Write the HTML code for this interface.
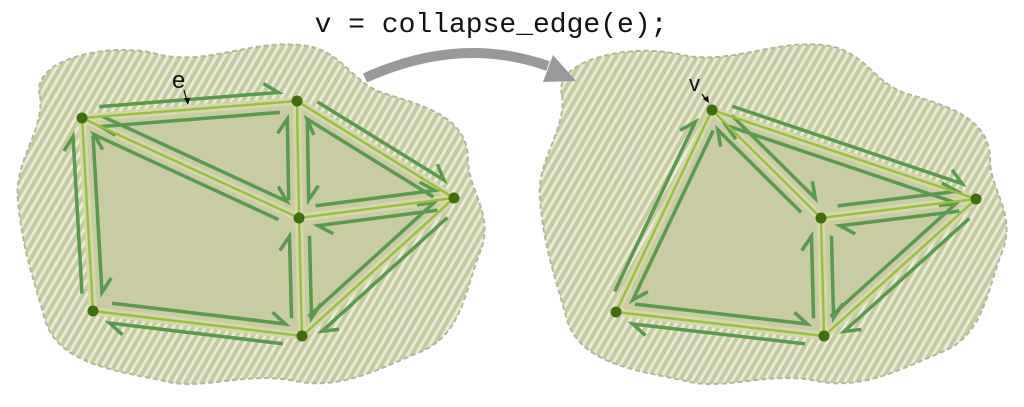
<!DOCTYPE html>
<html><head><meta charset="utf-8">
<style>
html,body{margin:0;padding:0;background:#fff;width:1024px;height:407px;overflow:hidden}
svg{display:block}
</style></head><body>
<svg id="s" width="1024" height="407" viewBox="0 0 1024 407" xmlns="http://www.w3.org/2000/svg">
<defs>
<pattern id="st" patternUnits="userSpaceOnUse" width="7" height="7" patternTransform="rotate(30)">
<rect width="7" height="7" fill="#e9ebd6"/>
<rect width="4" height="7" fill="#c6ca9f"/>
</pattern>
</defs>
<path d="M40,95 C30,60 110,40 160,55 C210,65 250,40 300,45 C340,48 350,80 380,92 C420,105 468,115 468,160 C468,190 495,215 480,252 C465,290 462,335 420,352 C380,368 340,392 290,380 C240,372 200,392 160,380 C110,370 58,362 45,320 C35,282 22,250 18,200 C14,160 45,130 40,95 Z" fill="url(#st)" stroke="#b5b69a" stroke-width="2" stroke-dasharray="5,3"/>
<path d="M562,95 C552,60 632,42 682,55 C732,65 772,40 822,45 C862,48 872,80 902,92 C942,105 990,115 990,160 C990,190 1017,215 1002,252 C987,290 984,335 942,352 C902,368 862,392 812,380 C762,372 722,392 682,380 C632,370 580,362 567,320 C557,282 544,250 540,200 C536,160 567,130 562,95 Z" fill="url(#st)" stroke="#b5b69a" stroke-width="2" stroke-dasharray="5,3"/>
<g id="g"></g>
<path d="M365,78 Q460,35 548,66" fill="none" stroke="#999" stroke-width="10"/>
<polygon points="576,81 543,82 553,55" fill="#999"/>
<text x="491" y="32" font-family="Liberation Mono, monospace" font-size="28" text-anchor="middle" fill="#111">v = collapse_edge(e);</text>
<text x="172" y="88" font-family="Liberation Sans, sans-serif" font-size="24" fill="#111">e</text>
<path d="M184,90 L187,101" stroke="#000" stroke-width="1.2"/><polygon points="188,105 184,98 190,98" fill="#000"/>
<text x="689" y="91" font-family="Liberation Sans, sans-serif" font-size="22" fill="#111">v</text>
<path d="M702,94 L706,100" stroke="#000" stroke-width="1.2"/><polygon points="709,103 703,99 708,96" fill="#000"/>
</svg>
<script>
var NS="http://www.w3.org/2000/svg",g=document.getElementById("g");
function el(t,a){var e=document.createElementNS(NS,t);for(var k in a)e.setAttribute(k,a[k]);g.appendChild(e);return e;}
function mesh(V,F){
  var edges={};
  F.forEach(function(f){
    el("polygon",{points:f.map(function(i){return V[i].join(",")}).join(" "),fill:"#c9cba3"});
  });
  F.forEach(function(f){for(var i=0;i<f.length;i++){var a=f[i],b=f[(i+1)%f.length];edges[Math.min(a,b)+"_"+Math.max(a,b)]=[a,b];}});
  var E=Object.keys(edges).map(function(k){return edges[k]});
  E.forEach(function(e){var p=V[e[0]],q=V[e[1]];el("line",{x1:p[0],y1:p[1],x2:q[0],y2:q[1],stroke:"#d4d7ad","stroke-width":8});});
  function half(p,q){
    var dx=q[0]-p[0],dy=q[1]-p[1],L=Math.hypot(dx,dy);dx/=L;dy/=L;
    var nx=dy,ny=-dx,o=10,s=18;
    var x1=p[0]+dx*s+nx*o,y1=p[1]+dy*s+ny*o,x2=q[0]-dx*s+nx*o,y2=q[1]-dy*s+ny*o;
    var bx=x2-dx*14+nx*10,by=y2-dy*14+ny*10;
    el("polyline",{points:x1+","+y1+" "+x2+","+y2+" "+bx+","+by,fill:"none",stroke:"#589a4e","stroke-width":3.5});
  }
  E.forEach(function(e){half(V[e[0]],V[e[1]]);half(V[e[1]],V[e[0]]);});
  E.forEach(function(e){var p=V[e[0]],q=V[e[1]];el("line",{x1:p[0],y1:p[1],x2:q[0],y2:q[1],stroke:"#99c03a","stroke-width":2.5});});
  V.forEach(function(v){el("circle",{cx:v[0],cy:v[1],r:5.5,fill:"#3f6e0c"});});
}
mesh([[82,118],[297,101],[299,218],[454,198],[93,311],[302,336]],[[1,0,2],[0,4,5,2],[1,2,3],[2,5,3]]);
mesh([[712,110],[821,218],[976,199],[616,312],[824,336]],[[0,3,4,1],[0,1,2],[1,4,2]]);
</script>
</body></html>
